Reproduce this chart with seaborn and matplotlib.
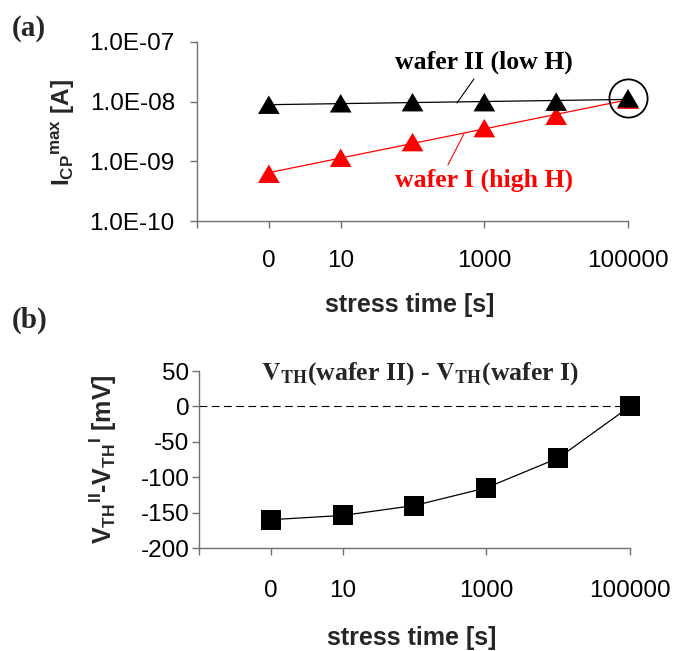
import numpy as np
import pandas as pd
import matplotlib
matplotlib.use("Agg")
import matplotlib.pyplot as plt
import seaborn as sns
from matplotlib.ticker import FixedLocator, FixedFormatter, NullLocator

# ---------------- data ----------------
stress_time = [1, 10, 100, 1000, 10000, 100000]          # 0 s is plotted at 1
x_tick_values = [0.1, 1, 10, 1000, 100000]
x_tick_labels = ["", "0", "10", "1000", "100000"]
icp_wafer2 = [8.9e-9, 9.4e-9, 9.8e-9, 9.8e-9, 1.0e-8, 1.14e-8]   # low H
icp_wafer1 = [6.2e-10, 1.15e-9, 2.1e-9, 3.6e-9, 5.8e-9, 1.08e-8]  # high H
a_y_ticks = [1e-10, 1e-9, 1e-8, 1e-7]
a_y_labels = ["1.0E-10", "1.0E-09", "1.0E-08", "1.0E-07"]
dvth = [-160, -154, -140, -115, -73, 0]
b_y_ticks = [-200, -150, -100, -50, 0, 50]

sns.set_theme(style="white")
plt.rcParams["font.family"] = ["Liberation Sans", "DejaVu Sans"]
plt.rcParams["axes.unicode_minus"] = False
plt.rcParams["mathtext.fontset"] = "custom"
plt.rcParams["mathtext.rm"] = "Liberation Sans"
plt.rcParams["mathtext.bf"] = "Liberation Sans:bold"
plt.rcParams["mathtext.it"] = "Liberation Sans:italic"

df_a = pd.DataFrame({"t": stress_time * 2,
                     "I": icp_wafer1 + icp_wafer2,
                     "wafer": ["I"] * 6 + ["II"] * 6})
df_b = pd.DataFrame({"t": stress_time, "dV": dvth})

# power-law trend lines (fit of the read values in log-log)
tfit = np.array([stress_time[0], stress_time[-1]], dtype=float)
def powfit(y):
    b, a = np.polyfit(np.log10(stress_time), np.log10(y), 1)
    return 10 ** (a + b * np.log10(tfit))

fig = plt.figure(figsize=(6.75, 6.51), dpi=100)
ax1 = fig.add_axes([0.2919, 0.6605, 0.6385, 0.275])
ax2 = fig.add_axes([0.2948, 0.1582, 0.6385, 0.2719])

spine_col = "#707070"
tri = [(-1, -0.85), (1, -0.85), (0, 0.85)]

# -------- panel (a) --------
sns.lineplot(x=tfit, y=powfit(icp_wafer2), ax=ax1, color="black", lw=0.9, zorder=2)
sns.lineplot(x=tfit, y=powfit(icp_wafer1), ax=ax1, color="red", lw=0.9, zorder=2)
sns.scatterplot(data=df_a, x="t", y="I", hue="wafer", hue_order=["I", "II"],
                palette={"I": "red", "II": "black"}, marker=tri, s=245,
                edgecolor=None, linewidth=0, ax=ax1, legend=False, zorder=3, clip_on=False)
ax1.plot([stress_time[-1]], [icp_wafer2[-1]], marker="o", ms=27.5, mfc="none",
         mec="black", mew=1.3, clip_on=False, zorder=4)

ax1.set_xscale("log")
ax1.set_yscale("log")
ax1.set_xlim(0.1, 1e5)
ax1.set_ylim(1e-10, 1e-7)
ax1.yaxis.set_major_locator(FixedLocator(a_y_ticks))
ax1.yaxis.set_major_formatter(FixedFormatter(a_y_labels))
ax1.yaxis.set_minor_locator(NullLocator())

ax1.text(980, 4.5e-8, "wafer II (low H)", ha="center", va="center", fontsize=18.5,
         fontweight="bold", family="Liberation Serif", color="black")
ax1.text(980, 4.9e-10, "wafer I (high H)", ha="center", va="center", fontsize=18.5,
         fontweight="bold", family="Liberation Serif", color="red")
ax1.annotate("", xy=(415, 9.5e-9), xytext=(716, 2.4e-8),
             arrowprops=dict(arrowstyle="-", color="black", lw=0.8, shrinkA=0, shrinkB=0))
ax1.annotate("", xy=(520, 2.9e-9), xytext=(311, 8.7e-10),
             arrowprops=dict(arrowstyle="-", color="red", lw=0.8, shrinkA=0, shrinkB=0))

ax1.set_xlabel("stress time [s]", fontsize=18, fontweight="bold")
ax1.xaxis.set_label_coords(0.494, -0.469)
ax1.xaxis.label.set_verticalalignment("center")
ax1.set_ylabel(r"$\mathbf{I_{CP}{}^{max}}$ [A]", fontsize=17.5, fontweight="bold")
ax1.yaxis.set_label_coords(-0.311, 0.497)
ax1.yaxis.label.set_verticalalignment("center")

# -------- panel (b) --------
ax2.axhline(0, color="black", lw=0.8, dashes=(7, 4), zorder=1)
sns.lineplot(data=df_b, x="t", y="dV", ax=ax2, color="black", lw=0.9, zorder=2)
sns.scatterplot(data=df_b, x="t", y="dV", ax=ax2, color="black", marker="s", s=205,
                linewidth=0, zorder=3, clip_on=False)
ax2.set_xscale("log")
ax2.set_xlim(0.1, 1e5)
ax2.set_ylim(-200, 50)
ax2.yaxis.set_major_locator(FixedLocator(b_y_ticks))
ax2.text(0.513, 0.983, r"$\mathbf{V_{TH}}$(wafer II) - $\mathbf{V_{TH}}$(wafer I)",
         transform=ax2.transAxes, ha="center", va="center", fontsize=18.5,
         fontweight="bold", family="Liberation Serif", math_fontfamily="stix")
ax2.set_xlabel("stress time [s]", fontsize=18, fontweight="bold")
ax2.xaxis.set_label_coords(0.494, -0.508)
ax2.xaxis.label.set_verticalalignment("center")
ax2.set_ylabel(r"$\mathbf{V_{TH}{}^{II}}$-$\mathbf{V_{TH}{}^{I}}$ [mV]",
               fontsize=18, fontweight="bold")
ax2.yaxis.set_label_coords(-0.223, 0.503)
ax2.yaxis.label.set_verticalalignment("center")

for ax, xpad, ypad in [(ax1, 16, 11), (ax2, 18, 2)]:
    ax.xaxis.set_major_locator(FixedLocator(x_tick_values))
    ax.xaxis.set_major_formatter(FixedFormatter(x_tick_labels))
    ax.xaxis.set_minor_locator(NullLocator())
    for s in ["top", "right"]:
        ax.spines[s].set_visible(False)
    for s in ["left", "bottom"]:
        ax.spines[s].set_color(spine_col)
        ax.spines[s].set_linewidth(1.0)
    ax.tick_params(axis="both", which="major", direction="out", length=5,
                   width=1.0, color=spine_col, labelsize=17.5, labelcolor="black",
                   left=True, bottom=True)
    ax.tick_params(axis="x", pad=xpad)
    ax.tick_params(axis="y", pad=ypad)
    ax.grid(False)
    ax.set_facecolor("white")

fig.text(29 / 675, 1 - 29 / 651, "(a)", ha="center", va="center", fontsize=21,
         fontweight="bold", family="Liberation Serif")
fig.text(30 / 675, 1 - 320 / 651, "(b)", ha="center", va="center", fontsize=21,
         fontweight="bold", family="Liberation Serif")

fig.savefig("out.png", dpi=100, facecolor="white")
